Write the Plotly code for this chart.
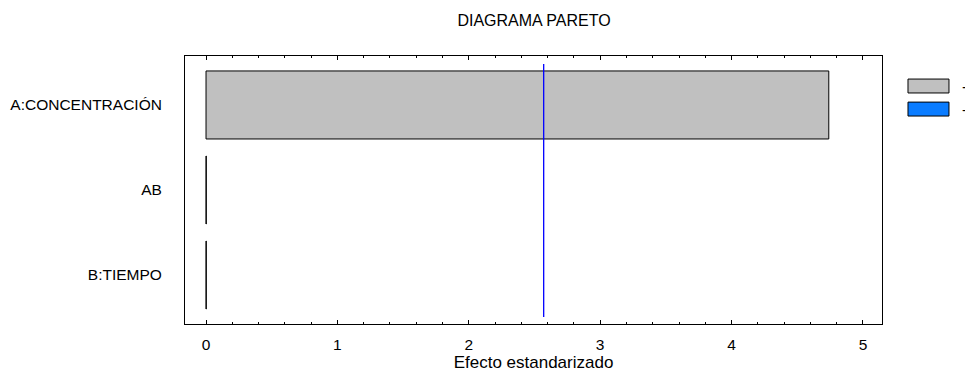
import plotly.graph_objects as go

# Standardized effects (bottom-to-top order on the category axis)
efectos = ["B:TIEMPO", "AB", "A:CONCENTRACIÓN"]
valores = [0.002, 0.002, 4.74]
valor_critico = 2.57
titulo = "DIAGRAMA PARETO"
titulo_x = "Efecto estandarizado"
leyenda = ["+", "-"]

GRIS = "#C0C0C0"
AZUL_NEG = "#0A7CFF"
FUENTE = "Liberation Sans, Arial, sans-serif"

fig = go.Figure()
fig.add_trace(go.Bar(
    y=efectos, x=valores, orientation="h", width=0.8,
    marker=dict(color=GRIS, line=dict(color="black", width=1)),
    showlegend=False, hoverinfo="x+y",
))

# Critical value reference line
fig.add_shape(type="line", xref="x", yref="paper",
              x0=valor_critico, x1=valor_critico, y0=0.026, y1=0.97,
              line=dict(color="#0000FF", width=1.3))

# Legend swatches drawn beside the frame
for i, (lbl, col) in enumerate(zip(leyenda, [GRIS, AZUL_NEG])):
    y1 = 0.914 - i * 0.086
    fig.add_shape(type="rect", xref="paper", yref="paper",
                  x0=1.0373, x1=1.0961, y0=y1 - 0.052, y1=y1,
                  fillcolor=col, line=dict(color="black", width=1))
    fig.add_annotation(xref="paper", yref="paper", x=1.112, y=y1 - 0.026,
                       text=lbl, showarrow=False, xanchor="left", yanchor="middle",
                       font=dict(size=15, color="black", family=FUENTE))

fig.update_layout(
    width=965, height=372,
    margin=dict(l=185, r=83, t=56, b=48, autoexpand=False),
    paper_bgcolor="white", plot_bgcolor="white",
    font=dict(family=FUENTE, size=15, color="black"),
    title=dict(text=titulo, x=0.5534, xanchor="center", y=0.945, yanchor="middle",
               font=dict(size=16, family=FUENTE, color="black")),
    bargap=0.2,
)
fig.update_xaxes(
    range=[-0.16, 5.145], tickvals=[0, 1, 2, 3, 4, 5],
    ticks="inside", ticklen=4, tickcolor="black",
    minor=dict(dtick=0.2, ticks="inside", ticklen=2, tickcolor="black"),
    showline=True, linecolor="black", linewidth=1, mirror="ticks",
    showgrid=False, zeroline=False, ticklabelstandoff=6,
    tickfont=dict(size=15.5),
    title=dict(text=titulo_x, standoff=9, font=dict(size=17)),
)
fig.update_yaxes(
    categoryorder="array", categoryarray=efectos,
    range=[-0.576, 2.576],
    ticks="", showline=True, linecolor="black", linewidth=1, mirror=True,
    showgrid=False, zeroline=False, ticklabelstandoff=19,
    tickfont=dict(size=15.5),
)

fig.write_html("out.html")
